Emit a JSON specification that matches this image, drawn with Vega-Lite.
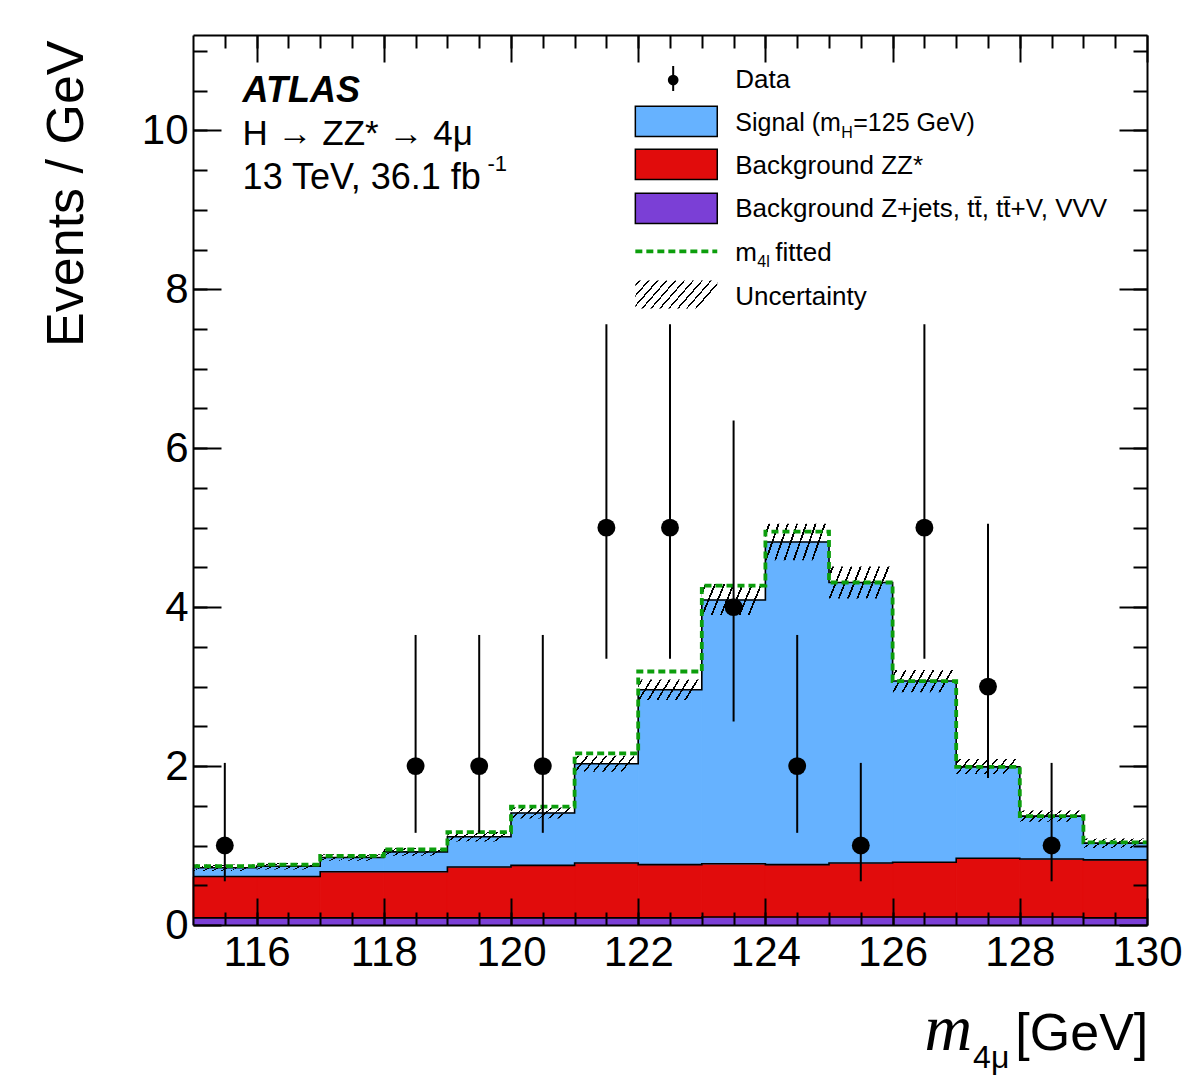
{
  "$schema": "https://vega.github.io/schema/vega-lite/v6.json",
  "width": 954,
  "height": 890,
  "autosize": {"type": "none"},
  "padding": {"left": 193, "top": 35, "right": 38, "bottom": 163},
  "background": "white",
  "config": {"view": {"stroke": null}, "font": "Liberation Sans"},
  "datasets": {
    "bins": [
      {"lo": 115, "hi": 116, "other": 0.09, "zz_top": 0.61, "total": 0.72, "fitted": 0.74, "unc_lo": 0.68, "unc_hi": 0.76},
      {"lo": 116, "hi": 117, "other": 0.09, "zz_top": 0.61, "total": 0.74, "fitted": 0.76, "unc_lo": 0.70, "unc_hi": 0.78},
      {"lo": 117, "hi": 118, "other": 0.09, "zz_top": 0.67, "total": 0.85, "fitted": 0.87, "unc_lo": 0.81, "unc_hi": 0.89},
      {"lo": 118, "hi": 119, "other": 0.09, "zz_top": 0.67, "total": 0.92, "fitted": 0.95, "unc_lo": 0.87, "unc_hi": 0.97},
      {"lo": 119, "hi": 120, "other": 0.09, "zz_top": 0.73, "total": 1.11, "fitted": 1.17, "unc_lo": 1.05, "unc_hi": 1.17},
      {"lo": 120, "hi": 121, "other": 0.09, "zz_top": 0.75, "total": 1.41, "fitted": 1.49, "unc_lo": 1.34, "unc_hi": 1.48},
      {"lo": 121, "hi": 122, "other": 0.09, "zz_top": 0.78, "total": 2.03, "fitted": 2.16, "unc_lo": 1.93, "unc_hi": 2.13},
      {"lo": 122, "hi": 123, "other": 0.09, "zz_top": 0.76, "total": 2.96, "fitted": 3.19, "unc_lo": 2.83, "unc_hi": 3.09},
      {"lo": 123, "hi": 124, "other": 0.10, "zz_top": 0.77, "total": 4.09, "fitted": 4.27, "unc_lo": 3.90, "unc_hi": 4.29},
      {"lo": 124, "hi": 125, "other": 0.10, "zz_top": 0.76, "total": 4.82, "fitted": 4.95, "unc_lo": 4.59, "unc_hi": 5.05},
      {"lo": 125, "hi": 126, "other": 0.10, "zz_top": 0.78, "total": 4.31, "fitted": 4.31, "unc_lo": 4.11, "unc_hi": 4.51},
      {"lo": 126, "hi": 127, "other": 0.10, "zz_top": 0.79, "total": 3.07, "fitted": 3.07, "unc_lo": 2.93, "unc_hi": 3.21},
      {"lo": 127, "hi": 128, "other": 0.10, "zz_top": 0.84, "total": 1.99, "fitted": 1.99, "unc_lo": 1.90, "unc_hi": 2.09},
      {"lo": 128, "hi": 129, "other": 0.10, "zz_top": 0.83, "total": 1.37, "fitted": 1.37, "unc_lo": 1.30, "unc_hi": 1.44},
      {"lo": 129, "hi": 130, "other": 0.09, "zz_top": 0.82, "total": 1.03, "fitted": 1.04, "unc_lo": 0.97, "unc_hi": 1.09}
    ],
    "observed": [
      {"m": 115.5, "n": 1, "lo": 0.55, "hi": 2.04},
      {"m": 118.5, "n": 2, "lo": 1.16, "hi": 3.65},
      {"m": 119.5, "n": 2, "lo": 1.16, "hi": 3.65},
      {"m": 120.5, "n": 2, "lo": 1.16, "hi": 3.65},
      {"m": 121.5, "n": 5, "lo": 3.35, "hi": 7.56},
      {"m": 122.5, "n": 5, "lo": 3.35, "hi": 7.56},
      {"m": 123.5, "n": 4, "lo": 2.56, "hi": 6.35},
      {"m": 124.5, "n": 2, "lo": 1.16, "hi": 3.65},
      {"m": 125.5, "n": 1, "lo": 0.55, "hi": 2.04},
      {"m": 126.5, "n": 5, "lo": 3.35, "hi": 7.56},
      {"m": 127.5, "n": 3, "lo": 1.85, "hi": 5.05},
      {"m": 128.5, "n": 1, "lo": 0.55, "hi": 2.04}
    ],
    "one": [{}]
  },
  "resolve": {"axis": {"x": "independent", "y": "independent"}},
  "layer": [
    {
      "data": {"name": "bins"},
      "mark": {"type": "rect", "fill": "#7b3fd6", "stroke": "#7b3fd6", "strokeWidth": 1},
      "encoding": {
        "x": {"field": "lo", "type": "quantitative", "scale": {"domain": [115, 130], "nice": false, "zero": false},
          "axis": {"orient": "bottom", "values": [116, 118, 120, 122, 124, 126, 128, 130], "format": "d", "tickSize": -27, "tickWidth": 2, "tickColor": "black", "domain": true, "domainWidth": 2, "domainColor": "black", "grid": false, "labelFontSize": 42, "labelFont": "Liberation Sans", "labelColor": "black", "labelPadding": 34, "labelFlush": false, "labelOverlap": false, "labelBound": false, "title": null, "zindex": 1}},
        "x2": {"field": "hi"},
        "y": {"field": "other", "type": "quantitative", "scale": {"domain": [0, 11.2], "nice": false, "zero": false},
          "axis": {"orient": "left", "values": [0, 2, 4, 6, 8, 10], "format": "d", "tickSize": -28, "tickWidth": 2, "tickColor": "black", "domain": true, "domainWidth": 2, "domainColor": "black", "grid": false, "labelFontSize": 42, "labelFont": "Liberation Sans", "labelColor": "black", "labelPadding": 33, "labelOverlap": false, "labelBound": false, "labelFlush": false,
            "title": "Events / GeV", "titleFont": "Liberation Sans", "titleFontSize": 52, "titleFontWeight": "normal", "titleColor": "black", "titleAngle": 270, "titleX": -111, "titleY": 5, "titleAlign": "right", "titleBaseline": "alphabetic", "zindex": 1}},
        "y2": {"datum": 0}
      }
    },
    {
      "data": {"name": "bins"},
      "mark": {"type": "rect", "fill": "#e10c0c", "stroke": "#e10c0c", "strokeWidth": 1},
      "encoding": {
        "x": {"field": "lo", "type": "quantitative",
          "axis": {"orient": "bottom", "values": [115.5, 116, 116.5, 117, 117.5, 118, 118.5, 119, 119.5, 120, 120.5, 121, 121.5, 122, 122.5, 123, 123.5, 124, 124.5, 125, 125.5, 126, 126.5, 127, 127.5, 128, 128.5, 129, 129.5], "tickSize": -13, "tickWidth": 2, "tickColor": "black", "domain": false, "grid": false, "labels": false, "title": null, "zindex": 1}},
        "x2": {"field": "hi"},
        "y": {"field": "zz_top", "type": "quantitative",
          "axis": {"orient": "left", "values": [0.5, 1, 1.5, 2, 2.5, 3, 3.5, 4, 4.5, 5, 5.5, 6, 6.5, 7, 7.5, 8, 8.5, 9, 9.5, 10, 10.5, 11], "tickSize": -14, "tickWidth": 2, "tickColor": "black", "domain": false, "grid": false, "labels": false, "title": null, "zindex": 1}},
        "y2": {"field": "other"}
      }
    },
    {
      "data": {"name": "bins"},
      "mark": {"type": "rect", "fill": "#66b2ff", "stroke": "#66b2ff", "strokeWidth": 1},
      "encoding": {
        "x": {"field": "lo", "type": "quantitative",
          "axis": {"orient": "top", "values": [116, 118, 120, 122, 124, 126, 128, 130], "tickSize": -27, "tickWidth": 2, "tickColor": "black", "domain": true, "domainWidth": 2, "domainColor": "black", "grid": false, "labels": false, "title": null, "zindex": 1}},
        "x2": {"field": "hi"},
        "y": {"field": "total", "type": "quantitative",
          "axis": {"orient": "right", "values": [0, 2, 4, 6, 8, 10], "tickSize": -28, "tickWidth": 2, "tickColor": "black", "domain": true, "domainWidth": 2, "domainColor": "black", "grid": false, "labels": false, "title": null, "zindex": 1}},
        "y2": {"field": "zz_top"}
      }
    },
    {
      "data": {"name": "bins"},
      "transform": [
        {"fold": ["other", "zz_top", "total"], "as": ["part", "level"]},
        {"fold": ["lo", "hi"], "as": ["edge", "x"]}
      ],
      "mark": {"type": "line", "stroke": "black", "strokeWidth": 1.6, "interpolate": "linear"},
      "encoding": {
        "x": {"field": "x", "type": "quantitative", "axis": null},
        "y": {"field": "level", "type": "quantitative", "axis": null},
        "detail": {"field": "part", "type": "nominal"},
        "order": [{"field": "x", "type": "quantitative"}, {"field": "edge", "type": "nominal", "sort": "descending"}]
      }
    },
    {
      "data": {"name": "bins"},
      "mark": {"type": "rect", "fill": {"gradient": "linear", "x1": 0, "y1": 0, "x2": 1, "y2": 0.2, "stops": [
        {"offset": 0, "color": "rgba(0,0,0,0)"},
        {"offset": 0.046, "color": "rgba(0,0,0,0)"}, {"offset": 0.046, "color": "#000"}, {"offset": 0.074, "color": "#000"}, {"offset": 0.074, "color": "rgba(0,0,0,0)"},
        {"offset": 0.186, "color": "rgba(0,0,0,0)"}, {"offset": 0.186, "color": "#000"}, {"offset": 0.214, "color": "#000"}, {"offset": 0.214, "color": "rgba(0,0,0,0)"},
        {"offset": 0.326, "color": "rgba(0,0,0,0)"}, {"offset": 0.326, "color": "#000"}, {"offset": 0.354, "color": "#000"}, {"offset": 0.354, "color": "rgba(0,0,0,0)"},
        {"offset": 0.466, "color": "rgba(0,0,0,0)"}, {"offset": 0.466, "color": "#000"}, {"offset": 0.494, "color": "#000"}, {"offset": 0.494, "color": "rgba(0,0,0,0)"},
        {"offset": 0.606, "color": "rgba(0,0,0,0)"}, {"offset": 0.606, "color": "#000"}, {"offset": 0.634, "color": "#000"}, {"offset": 0.634, "color": "rgba(0,0,0,0)"},
        {"offset": 0.746, "color": "rgba(0,0,0,0)"}, {"offset": 0.746, "color": "#000"}, {"offset": 0.774, "color": "#000"}, {"offset": 0.774, "color": "rgba(0,0,0,0)"},
        {"offset": 0.886, "color": "rgba(0,0,0,0)"}, {"offset": 0.886, "color": "#000"}, {"offset": 0.914, "color": "#000"}, {"offset": 0.914, "color": "rgba(0,0,0,0)"},
        {"offset": 1, "color": "rgba(0,0,0,0)"}
      ]}},
      "encoding": {
        "x": {"field": "lo", "type": "quantitative",
          "axis": {"orient": "top", "values": [115.5, 116, 116.5, 117, 117.5, 118, 118.5, 119, 119.5, 120, 120.5, 121, 121.5, 122, 122.5, 123, 123.5, 124, 124.5, 125, 125.5, 126, 126.5, 127, 127.5, 128, 128.5, 129, 129.5], "tickSize": -13, "tickWidth": 2, "tickColor": "black", "domain": false, "grid": false, "labels": false, "title": null, "zindex": 1}},
        "x2": {"field": "hi"},
        "y": {"field": "unc_hi", "type": "quantitative",
          "axis": {"orient": "right", "values": [0.5, 1, 1.5, 2, 2.5, 3, 3.5, 4, 4.5, 5, 5.5, 6, 6.5, 7, 7.5, 8, 8.5, 9, 9.5, 10, 10.5, 11], "tickSize": -14, "tickWidth": 2, "tickColor": "black", "domain": false, "grid": false, "labels": false, "title": null, "zindex": 1}},
        "y2": {"field": "unc_lo"}
      }
    },
    {
      "data": {"name": "bins"},
      "transform": [{"fold": ["lo", "hi"], "as": ["edge", "x"]}],
      "mark": {"type": "line", "stroke": "#0c9e0c", "strokeWidth": 3.8, "strokeDash": [7, 4], "interpolate": "linear"},
      "encoding": {
        "x": {"field": "x", "type": "quantitative", "axis": null},
        "y": {"field": "fitted", "type": "quantitative", "axis": null},
        "order": [{"field": "x", "type": "quantitative"}, {"field": "edge", "type": "nominal", "sort": "descending"}]
      }
    },
    {
      "data": {"name": "observed"},
      "mark": {"type": "rule", "stroke": "black", "strokeWidth": 2},
      "encoding": {
        "x": {"field": "m", "type": "quantitative", "axis": null},
        "y": {"field": "lo", "type": "quantitative", "axis": null},
        "y2": {"field": "hi"}
      }
    },
    {
      "data": {"name": "observed"},
      "mark": {"type": "point", "shape": "circle", "filled": true, "fill": "black", "stroke": null, "size": 320, "opacity": 1},
      "encoding": {
        "x": {"field": "m", "type": "quantitative", "axis": null},
        "y": {"field": "n", "type": "quantitative", "axis": null}
      }
    },
    {
      "data": {"name": "one"},
      "mark": {"type": "text", "text": "ATLAS", "font": "Liberation Sans", "fontSize": 36, "fontStyle": "italic", "fontWeight": "bold", "align": "left", "baseline": "alphabetic", "color": "black"},
      "encoding": {"x": {"datum": 115.78, "type": "quantitative", "axis": null}, "y": {"datum": 10.353, "type": "quantitative", "axis": null}}
    },
    {
      "data": {"name": "one"},
      "mark": {"type": "text", "text": "H → ZZ* → 4μ", "font": "Liberation Sans", "fontSize": 35, "align": "left", "baseline": "alphabetic", "color": "black"},
      "encoding": {"x": {"datum": 115.78, "type": "quantitative", "axis": null}, "y": {"datum": 9.811, "type": "quantitative", "axis": null}}
    },
    {
      "data": {"name": "one"},
      "mark": {"type": "text", "text": "13 TeV, 36.1 fb", "font": "Liberation Sans", "fontSize": 36, "align": "left", "baseline": "alphabetic", "color": "black"},
      "encoding": {"x": {"datum": 115.78, "type": "quantitative", "axis": null}, "y": {"datum": 9.257, "type": "quantitative", "axis": null}}
    },
    {
      "data": {"name": "one"},
      "mark": {"type": "text", "text": "-1", "font": "Liberation Sans", "fontSize": 22, "align": "left", "baseline": "alphabetic", "color": "black"},
      "encoding": {"x": {"datum": 119.63, "type": "quantitative", "axis": null}, "y": {"datum": 9.484, "type": "quantitative", "axis": null}}
    },
    {
      "data": {"name": "one"},
      "mark": {"type": "rule", "stroke": "black", "strokeWidth": 2},
      "encoding": {"x": {"datum": 122.55, "type": "quantitative", "axis": null}, "y": {"datum": 10.81, "type": "quantitative", "axis": null}, "y2": {"datum": 10.495}}
    },
    {
      "data": {"name": "one"},
      "mark": {"type": "point", "shape": "circle", "filled": true, "fill": "black", "stroke": null, "size": 115, "opacity": 1},
      "encoding": {"x": {"datum": 122.55, "type": "quantitative", "axis": null}, "y": {"datum": 10.633, "type": "quantitative", "axis": null}}
    },
    {
      "data": {"name": "one"},
      "mark": {"type": "rect", "fill": "#66b2ff", "stroke": "black", "strokeWidth": 1.5},
      "encoding": {"x": {"datum": 121.955, "type": "quantitative", "axis": null}, "x2": {"datum": 123.243}, "y": {"datum": 10.302, "type": "quantitative", "axis": null}, "y2": {"datum": 9.924}}
    },
    {
      "data": {"name": "one"},
      "mark": {"type": "rect", "fill": "#e10c0c", "stroke": "black", "strokeWidth": 1.5},
      "encoding": {"x": {"datum": 121.955, "type": "quantitative", "axis": null}, "x2": {"datum": 123.243}, "y": {"datum": 9.761, "type": "quantitative", "axis": null}, "y2": {"datum": 9.383}}
    },
    {
      "data": {"name": "one"},
      "mark": {"type": "rect", "fill": "#7b3fd6", "stroke": "black", "strokeWidth": 1.5},
      "encoding": {"x": {"datum": 121.955, "type": "quantitative", "axis": null}, "x2": {"datum": 123.243}, "y": {"datum": 9.207, "type": "quantitative", "axis": null}, "y2": {"datum": 8.829}}
    },
    {
      "data": {"name": "one"},
      "mark": {"type": "rule", "stroke": "#0c9e0c", "strokeWidth": 3.8, "strokeDash": [7, 4]},
      "encoding": {"x": {"datum": 121.955, "type": "quantitative", "axis": null}, "x2": {"datum": 123.243}, "y": {"datum": 8.476, "type": "quantitative", "axis": null}}
    },
    {
      "data": {"name": "one"},
      "mark": {"type": "rect", "fill": {"gradient": "linear", "x1": 0, "y1": 0, "x2": 1, "y2": 0.3, "stops": [
        {"offset": 0, "color": "rgba(0,0,0,0)"},
        {"offset": 0.04, "color": "rgba(0,0,0,0)"}, {"offset": 0.04, "color": "#000"}, {"offset": 0.06, "color": "#000"}, {"offset": 0.06, "color": "rgba(0,0,0,0)"},
        {"offset": 0.14, "color": "rgba(0,0,0,0)"}, {"offset": 0.14, "color": "#000"}, {"offset": 0.16, "color": "#000"}, {"offset": 0.16, "color": "rgba(0,0,0,0)"},
        {"offset": 0.24, "color": "rgba(0,0,0,0)"}, {"offset": 0.24, "color": "#000"}, {"offset": 0.26, "color": "#000"}, {"offset": 0.26, "color": "rgba(0,0,0,0)"},
        {"offset": 0.34, "color": "rgba(0,0,0,0)"}, {"offset": 0.34, "color": "#000"}, {"offset": 0.36, "color": "#000"}, {"offset": 0.36, "color": "rgba(0,0,0,0)"},
        {"offset": 0.44, "color": "rgba(0,0,0,0)"}, {"offset": 0.44, "color": "#000"}, {"offset": 0.46, "color": "#000"}, {"offset": 0.46, "color": "rgba(0,0,0,0)"},
        {"offset": 0.54, "color": "rgba(0,0,0,0)"}, {"offset": 0.54, "color": "#000"}, {"offset": 0.56, "color": "#000"}, {"offset": 0.56, "color": "rgba(0,0,0,0)"},
        {"offset": 0.64, "color": "rgba(0,0,0,0)"}, {"offset": 0.64, "color": "#000"}, {"offset": 0.66, "color": "#000"}, {"offset": 0.66, "color": "rgba(0,0,0,0)"},
        {"offset": 0.74, "color": "rgba(0,0,0,0)"}, {"offset": 0.74, "color": "#000"}, {"offset": 0.76, "color": "#000"}, {"offset": 0.76, "color": "rgba(0,0,0,0)"},
        {"offset": 0.84, "color": "rgba(0,0,0,0)"}, {"offset": 0.84, "color": "#000"}, {"offset": 0.86, "color": "#000"}, {"offset": 0.86, "color": "rgba(0,0,0,0)"},
        {"offset": 0.94, "color": "rgba(0,0,0,0)"}, {"offset": 0.94, "color": "#000"}, {"offset": 0.96, "color": "#000"}, {"offset": 0.96, "color": "rgba(0,0,0,0)"},
        {"offset": 1, "color": "rgba(0,0,0,0)"}
      ]}},
      "encoding": {"x": {"datum": 121.955, "type": "quantitative", "axis": null}, "x2": {"datum": 123.243}, "y": {"datum": 8.111, "type": "quantitative", "axis": null}, "y2": {"datum": 7.758}}
    },
    {
      "data": {"name": "one"},
      "mark": {"type": "text", "text": "Data", "font": "Liberation Sans", "fontSize": 26, "align": "left", "baseline": "alphabetic", "color": "black"},
      "encoding": {"x": {"datum": 123.526, "type": "quantitative", "axis": null}, "y": {"datum": 10.535, "type": "quantitative", "axis": null}}
    },
    {
      "data": {"name": "one"},
      "mark": {"type": "text", "text": "Signal (m", "font": "Liberation Sans", "fontSize": 25, "align": "left", "baseline": "alphabetic", "color": "black"},
      "encoding": {"x": {"datum": 123.526, "type": "quantitative", "axis": null}, "y": {"datum": 9.987, "type": "quantitative", "axis": null}}
    },
    {
      "data": {"name": "one"},
      "mark": {"type": "text", "text": "H", "font": "Liberation Sans", "fontSize": 16, "align": "left", "baseline": "alphabetic", "color": "black", "dx": 106, "dy": 7},
      "encoding": {"x": {"datum": 123.526, "type": "quantitative", "axis": null}, "y": {"datum": 9.987, "type": "quantitative", "axis": null}}
    },
    {
      "data": {"name": "one"},
      "mark": {"type": "text", "text": "=125 GeV)", "font": "Liberation Sans", "fontSize": 25, "align": "left", "baseline": "alphabetic", "color": "black", "dx": 118},
      "encoding": {"x": {"datum": 123.526, "type": "quantitative", "axis": null}, "y": {"datum": 9.987, "type": "quantitative", "axis": null}}
    },
    {
      "data": {"name": "one"},
      "mark": {"type": "text", "text": "Background ZZ*", "font": "Liberation Sans", "fontSize": 26, "align": "left", "baseline": "alphabetic", "color": "black"},
      "encoding": {"x": {"datum": 123.526, "type": "quantitative", "axis": null}, "y": {"datum": 9.452, "type": "quantitative", "axis": null}}
    },
    {
      "data": {"name": "one"},
      "mark": {"type": "text", "text": "Background Z+jets, tt̄, tt̄+V, VVV", "font": "Liberation Sans", "fontSize": 26, "align": "left", "baseline": "alphabetic", "color": "black"},
      "encoding": {"x": {"datum": 123.526, "type": "quantitative", "axis": null}, "y": {"datum": 8.904, "type": "quantitative", "axis": null}}
    },
    {
      "data": {"name": "one"},
      "mark": {"type": "text", "text": "m", "font": "Liberation Sans", "fontSize": 26, "align": "left", "baseline": "alphabetic", "color": "black"},
      "encoding": {"x": {"datum": 123.526, "type": "quantitative", "axis": null}, "y": {"datum": 8.356, "type": "quantitative", "axis": null}}
    },
    {
      "data": {"name": "one"},
      "mark": {"type": "text", "text": "4l", "font": "Liberation Sans", "fontSize": 16, "align": "left", "baseline": "alphabetic", "color": "black", "dx": 22, "dy": 6},
      "encoding": {"x": {"datum": 123.526, "type": "quantitative", "axis": null}, "y": {"datum": 8.356, "type": "quantitative", "axis": null}}
    },
    {
      "data": {"name": "one"},
      "mark": {"type": "text", "text": "fitted", "font": "Liberation Sans", "fontSize": 26, "align": "left", "baseline": "alphabetic", "color": "black", "dx": 40},
      "encoding": {"x": {"datum": 123.526, "type": "quantitative", "axis": null}, "y": {"datum": 8.356, "type": "quantitative", "axis": null}}
    },
    {
      "data": {"name": "one"},
      "mark": {"type": "text", "text": "Uncertainty", "font": "Liberation Sans", "fontSize": 26, "align": "left", "baseline": "alphabetic", "color": "black"},
      "encoding": {"x": {"datum": 123.526, "type": "quantitative", "axis": null}, "y": {"datum": 7.802, "type": "quantitative", "axis": null}}
    },
    {
      "data": {"name": "one"},
      "mark": {"type": "text", "text": "[GeV]", "font": "Liberation Sans", "fontSize": 52, "align": "right", "baseline": "alphabetic", "color": "black"},
      "encoding": {"x": {"datum": 130.02, "type": "quantitative", "axis": null}, "y": {"datum": -1.574, "type": "quantitative", "axis": null}}
    },
    {
      "data": {"name": "one"},
      "mark": {"type": "text", "text": "m", "font": "Liberation Serif", "fontSize": 66, "fontStyle": "italic", "align": "right", "baseline": "alphabetic", "color": "black"},
      "encoding": {"x": {"datum": 127.25, "type": "quantitative", "axis": null}, "y": {"datum": -1.574, "type": "quantitative", "axis": null}}
    },
    {
      "data": {"name": "one"},
      "mark": {"type": "text", "text": "4μ", "font": "Liberation Sans", "fontSize": 32, "align": "left", "baseline": "alphabetic", "color": "black", "dx": 1},
      "encoding": {"x": {"datum": 127.25, "type": "quantitative", "axis": null}, "y": {"datum": -1.8, "type": "quantitative", "axis": null}}
    }
  ]
}
